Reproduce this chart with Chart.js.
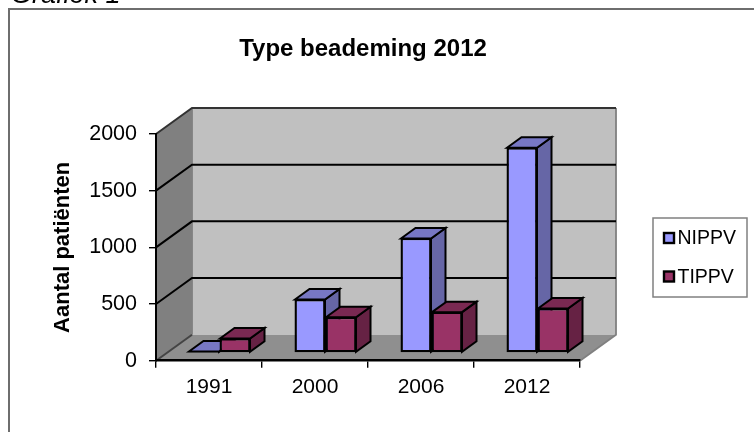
<!DOCTYPE html>
<html><head><meta charset="utf-8">
<style>html,body{margin:0;padding:0;background:#fff}canvas{display:block}</style>
<script src="https://cdn.jsdelivr.net/npm/chart.js@4"></script></head>
<body><div style="width:754px;height:432px"><canvas id="c"></canvas></div>
<script>
const categories = ['1991','2000','2006','2012'];
const nippv = [18,476,1015,1815];
const tippv = [132,320,365,397];
const seriesNames = ['NIPPV','TIPPV'];
const yTicks = [0,500,1000,1500,2000];
const chartTitle = 'Type beademing 2012';
const yTitle = 'Aantal patiënten';
const caption = 'Grafiek 1';
const FONT = '"Liberation Sans", Arial, sans-serif';
const WALL = {dx:36, dy:-26};
const BAR = {dx:14.5, dy:-10.5, ox:10.5, oy:-7.7};
const SHADE = [{front:'#9999FF',top:'#7777C4',side:'#6666A6'},{front:'#993366',top:'#7A2952',side:'#662244'}];

function poly(ctx, pts, fill, stroke, lw){
  ctx.beginPath(); pts.forEach((p,i)=> i?ctx.lineTo(p[0],p[1]):ctx.moveTo(p[0],p[1])); ctx.closePath();
  if(fill){ctx.fillStyle=fill;ctx.fill();}
  if(stroke){ctx.strokeStyle=stroke;ctx.lineWidth=lw;ctx.lineJoin='miter';ctx.stroke();}
}
const scene = {
  id:'scene',
  beforeDraw(chart){
    const {ctx,chartArea:a,scales:{y}} = chart, d=WALL;
    ctx.save();
    ctx.fillStyle='#fff'; ctx.fillRect(0,0,754,432);
    ctx.strokeStyle='#6e6e6e'; ctx.lineWidth=2; ctx.strokeRect(9,9,800,440);
    ctx.fillStyle='#000'; ctx.font='italic 27px '+FONT; ctx.textBaseline='alphabetic'; ctx.textAlign='left';
    ctx.fillText(caption,11,3);
    ctx.font='bold 24px '+FONT; ctx.textAlign='center';
    ctx.fillText(chartTitle,363,56);
    const b=y.getPixelForValue(0), t=y.getPixelForValue(2000);
    poly(ctx,[[a.left+d.dx,t+d.dy],[a.right+d.dx,t+d.dy],[a.right+d.dx,b+d.dy],[a.left+d.dx,b+d.dy]],'#C0C0C0');
    poly(ctx,[[a.left,t],[a.left+d.dx,t+d.dy],[a.left+d.dx,b+d.dy],[a.left,b]],'#808080');
    poly(ctx,[[a.left,b],[a.left+d.dx,b+d.dy],[a.right+d.dx,b+d.dy],[a.right,b]],'#8F8F8F');
    ctx.strokeStyle='#808080'; ctx.lineWidth=1.8;
    ctx.beginPath(); ctx.moveTo(a.right+d.dx,t+d.dy); ctx.lineTo(a.right+d.dx,b+d.dy); ctx.lineTo(a.right,b); ctx.moveTo(a.left+d.dx,t+d.dy); ctx.lineTo(a.left+d.dx,b+d.dy); ctx.stroke();
    ctx.lineWidth=2;
    yTicks.forEach(v=>{
      const p=y.getPixelForValue(v);
      ctx.strokeStyle = v===0 ? '#444' : (v===2000 ? '#333' : '#000');
      ctx.beginPath(); ctx.moveTo(a.left,p); ctx.lineTo(a.left+d.dx,p+d.dy);
      if(v>0) ctx.lineTo(a.right+d.dx,p+d.dy);
      ctx.stroke();
    });
    ctx.restore();
  },
  beforeDatasetsDraw(chart){
    const ctx=chart.ctx;
    ctx.save();
    ctx.translate(BAR.ox,BAR.oy);
    categories.forEach((_,i)=>{
      chart.data.datasets.forEach((ds,k)=>{
        const el=chart.getDatasetMeta(k).data[i]; if(!el) return;
        const l=el.x-el.width/2+0.5, r=el.x+el.width/2-0.5, t=el.y+0.5, bt=el.base-0.5, s=SHADE[k];
        poly(ctx,[[r,t],[r+BAR.dx,t+BAR.dy],[r+BAR.dx,bt+BAR.dy],[r,bt]],s.side,'#000',2);
        poly(ctx,[[l,t],[l+BAR.dx,t+BAR.dy],[r+BAR.dx,t+BAR.dy],[r,t]],s.top,'#000',2);
      });
    });
    ctx.restore();
    ctx.save();
    ctx.translate(BAR.ox,BAR.oy);
  },
  afterDatasetsDraw(chart){ chart.ctx.restore(); },
  afterDraw(chart){
    const ctx=chart.ctx;
    ctx.save();
    ctx.fillStyle='#fff'; ctx.strokeStyle='#808080'; ctx.lineWidth=1.5;
    ctx.fillRect(653,218,94,79); ctx.strokeRect(653,218,94,79);
    chart.data.datasets.forEach((ds,k)=>{
      const cy=238+k*38.5;
      ctx.fillStyle=ds.backgroundColor; ctx.strokeStyle='#000'; ctx.lineWidth=2.4;
      ctx.fillRect(664,cy-5,10,10); ctx.strokeRect(664,cy-5,10,10);
      ctx.fillStyle='#000'; ctx.font='19.5px '+FONT; ctx.textAlign='left'; ctx.textBaseline='middle';
      ctx.fillText(ds.label,677.5,cy+1);
    });
    ctx.restore();
  }
};
const barStyle = {borderColor:'#000',borderWidth:2.4,borderSkipped:false};
new Chart(document.getElementById('c'),{
  type:'bar',
  data:{labels:categories,datasets:[
    {label:seriesNames[0],data:nippv,backgroundColor:SHADE[0].front,...barStyle},
    {label:seriesNames[1],data:tippv,backgroundColor:SHADE[1].front,...barStyle}
  ]},
  plugins:[scene],
  options:{
    responsive:true,maintainAspectRatio:false,animation:false,devicePixelRatio:1,
    layout:{padding:{left:0,right:174,top:134,bottom:0}},
    plugins:{legend:{display:false},title:{display:false},tooltip:{enabled:false}},
    datasets:{bar:{categoryPercentage:0.585,barPercentage:1,grouped:true}},
    scales:{
      x:{grid:{drawOnChartArea:false,drawTicks:true,tickLength:7,color:'#000',lineWidth:1.4},
         border:{color:'#000',width:2.6},
         ticks:{color:'#000',font:{family:FONT,size:21},padding:7,maxRotation:0},
         afterFit(s){s.height=71.3;}},
      y:{min:0,max:2000,
         grid:{drawOnChartArea:false,drawTicks:true,tickLength:7,color:'#000',lineWidth:1.4},
         border:{color:'#000',width:2},
         ticks:{color:'#000',font:{family:FONT,size:21.5},padding:12,stepSize:500,autoSkip:false,callback:v=>String(v)},
         title:{display:true,text:yTitle,color:'#000',font:{family:FONT,size:22,weight:'bold'},padding:{top:50,bottom:0}},
         afterFit(s){s.width=156;}}
    }
  }
});
</script></body></html>
